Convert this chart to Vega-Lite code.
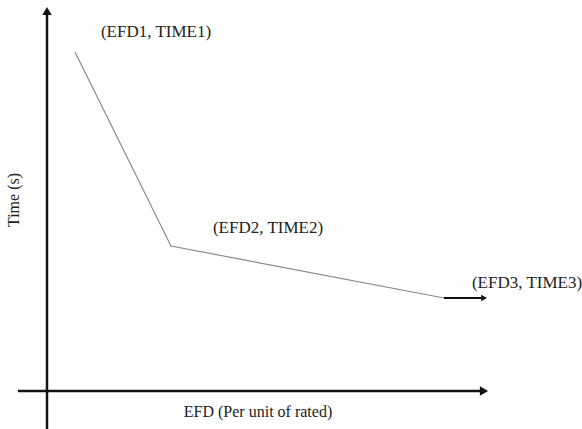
{
  "$schema": "https://vega.github.io/schema/vega-lite/v6.json",
  "width": 582,
  "height": 429,
  "autosize": {"type": "none"},
  "padding": 0,
  "background": "white",
  "config": {"view": {"stroke": null}},
  "datasets": {
    "axes": [
      {"name": "time", "x": 47, "y": -20, "x2": 47, "y2": 414},
      {"name": "efd", "x": 18, "y": 38, "x2": 482, "y2": 38}
    ],
    "heads": [
      {"name": "time", "x": 47, "y": 418, "shape": "triangle-up"},
      {"name": "efd", "x": 484, "y": 38, "shape": "triangle-right"},
      {"name": "tail", "x": 484, "y": 131, "shape": "triangle-right"}
    ],
    "curve": [
      {"step": 1, "efd": 75, "time": 377},
      {"step": 2, "efd": 171, "time": 183},
      {"step": 3, "efd": 444, "time": 131}
    ],
    "tail": [
      {"x": 444, "y": 131, "x2": 481, "y2": 131}
    ],
    "labels": [
      {"text": "(EFD1, TIME1)", "x": 156, "y": 397},
      {"text": "(EFD2, TIME2)", "x": 268, "y": 201},
      {"text": "(EFD3, TIME3)", "x": 527, "y": 146}
    ],
    "titles": [
      {"text": "Time (s)", "x": 14, "y": 229, "angle": 270},
      {"text": "EFD (Per unit of rated)", "x": 258, "y": 17, "angle": 0}
    ]
  },
  "layer": [
    {
      "data": {"name": "axes"},
      "mark": {"type": "rule", "color": "#111", "strokeWidth": 2.5},
      "encoding": {
        "x": {"field": "x", "type": "quantitative", "scale": {"domain": [0, 582], "nice": false, "zero": false}, "axis": null},
        "y": {"field": "y", "type": "quantitative", "scale": {"domain": [0, 429], "nice": false, "zero": false}, "axis": null},
        "x2": {"field": "x2"},
        "y2": {"field": "y2"}
      }
    },
    {
      "data": {"name": "curve"},
      "mark": {"type": "line", "color": "#8a8a8a", "strokeWidth": 1.2},
      "encoding": {
        "x": {"field": "efd", "type": "quantitative"},
        "y": {"field": "time", "type": "quantitative"},
        "order": {"field": "step", "type": "quantitative"}
      }
    },
    {
      "data": {"name": "tail"},
      "mark": {"type": "rule", "color": "#111", "strokeWidth": 1.8},
      "encoding": {
        "x": {"field": "x", "type": "quantitative"},
        "y": {"field": "y", "type": "quantitative"},
        "x2": {"field": "x2"},
        "y2": {"field": "y2"}
      }
    },
    {
      "data": {"name": "heads"},
      "mark": {"type": "point", "filled": true, "color": "#111", "opacity": 1},
      "encoding": {
        "x": {"field": "x", "type": "quantitative"},
        "y": {"field": "y", "type": "quantitative"},
        "shape": {"field": "shape", "type": "nominal", "scale": null, "legend": null},
        "size": {"condition": {"test": "datum.name === 'tail'", "value": 45}, "value": 90}
      }
    },
    {
      "data": {"name": "labels"},
      "mark": {"type": "text", "font": "Liberation Serif", "fontSize": 17, "color": "#222", "align": "center", "baseline": "middle"},
      "encoding": {
        "x": {"field": "x", "type": "quantitative"},
        "y": {"field": "y", "type": "quantitative"},
        "text": {"field": "text"}
      }
    },
    {
      "data": {"name": "titles"},
      "mark": {"type": "text", "font": "Liberation Serif", "fontSize": 16, "color": "#222", "align": "center", "baseline": "middle"},
      "encoding": {
        "x": {"field": "x", "type": "quantitative"},
        "y": {"field": "y", "type": "quantitative"},
        "angle": {"field": "angle", "type": "quantitative", "scale": null},
        "text": {"field": "text"}
      }
    }
  ]
}
